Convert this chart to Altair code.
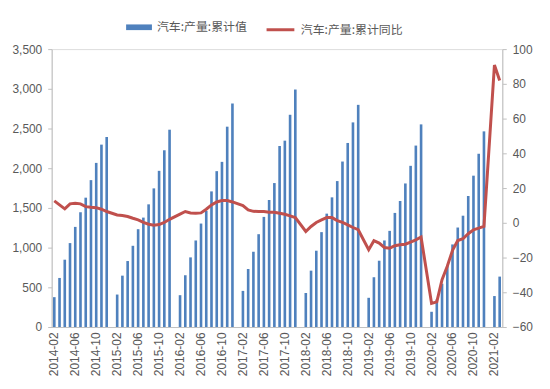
import altair as alt
import pandas as pd

# ---- data (万辆 / %) : values for Feb..Dec of each year; January has no separate figure
prod_2014 = [376, 618, 848, 1057, 1261, 1445, 1629, 1850, 2067, 2297, 2393]
prod_2015 = [409, 647, 831, 1023, 1232, 1378, 1545, 1746, 1967, 2226, 2485]
prod_2016 = [401, 652, 877, 1090, 1303, 1462, 1708, 1963, 2080, 2523, 2815]
prod_2017 = [455, 731, 948, 1169, 1387, 1600, 1813, 2280, 2347, 2673, 2991]
prod_2018 = [430, 710, 961, 1195, 1428, 1633, 1838, 2084, 2318, 2577, 2798]
prod_2019 = [368, 627, 835, 1090, 1211, 1437, 1587, 1808, 2030, 2285, 2552]
prod_2020 = [192, 347, 545, 780, 1040, 1253, 1402, 1650, 1906, 2182, 2464]
prod_2021 = [390, 635]

yoy_2014 = [12.6, 10.3, 8.0, 10.9, 11.2, 10.9, 9.3, 8.9, 8.7, 7.8, 6.5]
yoy_2015 = [4.5, 4.2, 3.6, 2.6, 1.7, 0.3, -0.8, -1.4, -1.0, 0.2, 2.0]
yoy_2016 = [5.0, 6.5, 5.7, 5.5, 5.7, 7.8, 10.3, 12.0, 12.8, 12.8, 12.0]
yoy_2017 = [9.9, 7.4, 6.6, 6.5, 6.5, 6.1, 6.1, 5.5, 4.9, 4.0, 3.0]
yoy_2018 = [-5.0, -2.1, 0.2, 1.7, 3.0, 3.0, 1.3, 0.2, -1.2, -2.7, -4.0]
yoy_2019 = [-15.5, -10.3, -11.7, -14.2, -14.6, -13.2, -12.6, -12.3, -11.1, -9.8, -8.2]
yoy_2020 = [-46.4, -45.5, -32.7, -25.0, -15.9, -10.2, -9.2, -6.3, -4.0, -3.1, -2.1]
yoy_2021 = [90.8, 81.9]

name_bar = "汽车:产量:累计值"
name_line = "汽车:产量:累计同比"

prod_by_year = {2014: prod_2014, 2015: prod_2015, 2016: prod_2016, 2017: prod_2017,
                2018: prod_2018, 2019: prod_2019, 2020: prod_2020, 2021: prod_2021}
yoy_by_year = {2014: yoy_2014, 2015: yoy_2015, 2016: yoy_2016, 2017: yoy_2017,
               2018: yoy_2018, 2019: yoy_2019, 2020: yoy_2020, 2021: yoy_2021}

rows = []
for y in range(2014, 2022):
    for m in range(1, 13):
        if (y, m) < (2014, 2) or (y, m) > (2021, 3):
            continue
        label = f"{y}-{m:02d}"
        if m == 1:
            rows.append({"month": label, "prod": None, "yoy": None})
        else:
            rows.append({"month": label, "prod": prod_by_year[y][m - 2], "yoy": yoy_by_year[y][m - 2]})
df = pd.DataFrame(rows)
df["s1"] = name_bar
df["s2"] = name_line
months = list(df["month"])
tick_labels = months[::4]

axis_color = "#BFBFBF"
label_color = "#595959"
num_font = "Liberation Sans"
cjk_font = "Noto Sans CJK SC"

x_enc = alt.X(
    "month:N", sort=months,
    scale=alt.Scale(domain=months, paddingInner=0.5, paddingOuter=0.25),
    axis=alt.Axis(values=tick_labels, labelAngle=-90, title=None, ticks=False,
                  domainColor=axis_color, labelColor=label_color, labelFont=num_font,
                  labelFontSize=12, labelPadding=5, labelBaseline="middle", labelAlign="right"),
)

base = alt.Chart(df).encode(x=x_enc)

bars = base.mark_bar().encode(
    y=alt.Y("prod:Q", scale=alt.Scale(domain=[0, 3500], nice=False),
            axis=alt.Axis(orient="left", values=list(range(0, 3501, 500)), format=",.0f",
                          title=None, grid=False, domainColor=axis_color, tickColor=axis_color,
                          tickSize=4, labelColor=label_color, labelFont=num_font,
                          labelFontSize=12, labelPadding=6)),
    color=alt.Color("s1:N", scale=alt.Scale(domain=[name_bar], range=["#4F81BD"]),
                    legend=alt.Legend(title=None, orient="none", legendX=75, legendY=-35,
                                      symbolType="M-1,-0.22L1,-0.22L1,0.22L-1,0.22Z",
                                      symbolSize=676, symbolStrokeWidth=0, padding=0,
                                      labelFont=cjk_font, labelFontSize=12, labelColor=label_color,
                                      labelOffset=5)),
)

line = base.mark_line(strokeWidth=3).encode(
    y=alt.Y("yoy:Q", scale=alt.Scale(domain=[-60, 100], nice=False),
            axis=alt.Axis(orient="right", values=list(range(-60, 101, 20)), title=None,
                          grid=False, domainColor=axis_color, tickColor=axis_color, tickSize=4,
                          labelColor=label_color, labelFont=num_font, labelFontSize=12,
                          labelPadding=6)),
    stroke=alt.Stroke("s2:N", scale=alt.Scale(domain=[name_line], range=["#C0504D"]),
                      legend=alt.Legend(title=None, orient="none", legendX=215, legendY=-35,
                                        symbolType="stroke", symbolSize=784, symbolStrokeWidth=3,
                                        padding=0, labelFont=cjk_font, labelFontSize=12,
                                        labelColor=label_color, labelOffset=5)),
).transform_filter("isValid(datum.yoy)")

chart = alt.layer(bars, line).resolve_scale(
    y="independent", color="independent", stroke="independent"
).properties(
    width=454, height=280,
    autosize=alt.AutoSizeParams(type="none"),
    padding={"left": 44, "top": 40, "right": 40, "bottom": 57},
).configure_view(stroke=None).configure(background="white")

chart.save("out.html", embed_options={"renderer": "svg", "actions": False})
